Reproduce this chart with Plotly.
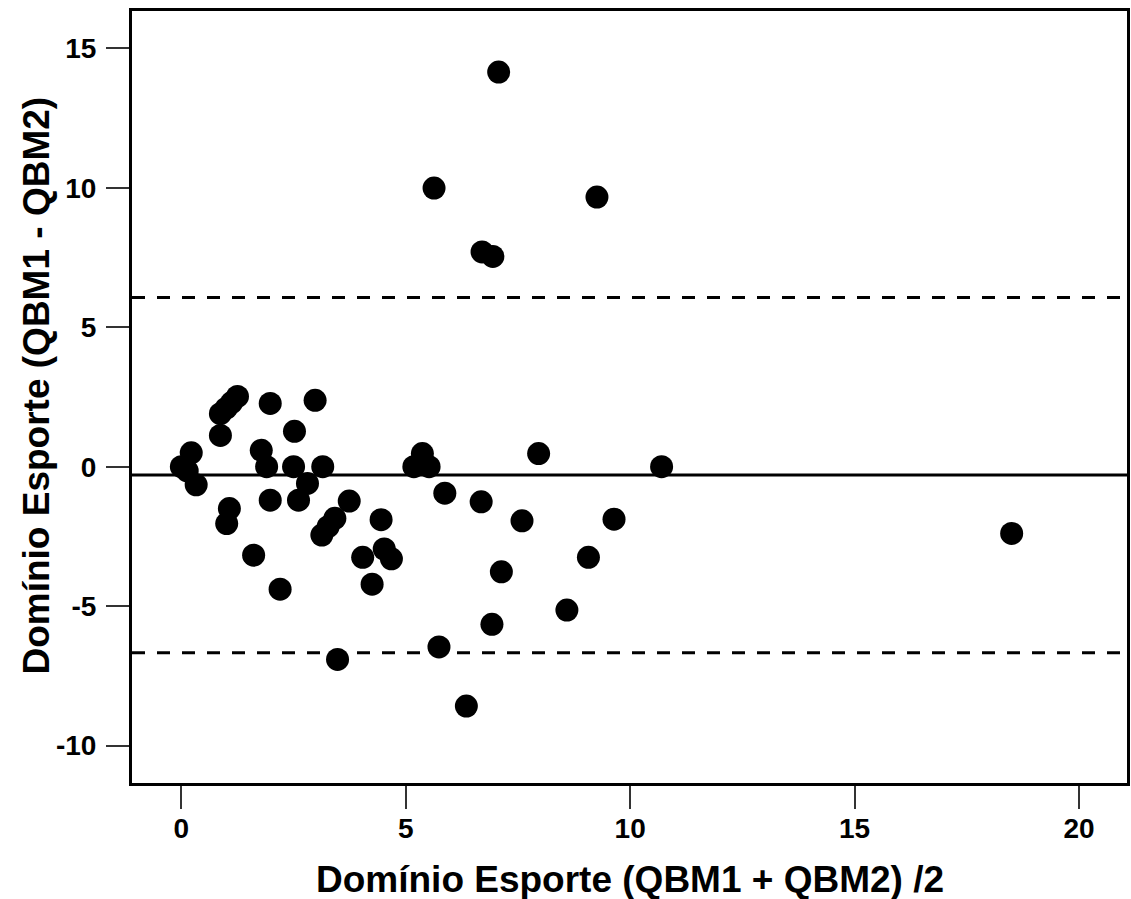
import plotly.graph_objects as go

# Bland-Altman data: mean of QBM1 & QBM2 (x) vs difference (y)
mean_vals = [0.0, 0.13, 0.22, 0.33, 0.87, 0.87, 1.0, 1.12, 1.25,
             1.98, 2.98, 2.52, 1.78, 1.9, 2.5, 3.15, 2.81, 1.98, 2.61,
             1.07, 1.01, 3.74, 3.42, 3.27, 3.13, 4.45, 1.61, 4.04, 4.52,
             4.68, 4.25, 2.2, 3.48, 5.18, 5.37, 5.52, 5.87, 7.96, 10.7,
             6.68, 7.59, 9.64, 9.07, 7.13, 8.59, 6.92, 5.74, 6.35, 7.07,
             5.63, 9.26, 6.7, 6.94, 18.5]
diff_vals = [0.0, -0.15, 0.5, -0.65, 1.12, 1.9, 2.1, 2.3, 2.52,
             2.27, 2.38, 1.27, 0.59, 0.0, 0.0, 0.0, -0.6, -1.2, -1.2,
             -1.5, -2.04, -1.23, -1.85, -2.15, -2.45, -1.9, -3.17, -3.25, -2.95,
             -3.3, -4.21, -4.39, -6.91, 0.0, 0.47, 0.0, -0.95, 0.47, 0.0,
             -1.26, -1.94, -1.88, -3.25, -3.77, -5.14, -5.65, -6.46, -8.58, 14.15,
             9.99, 9.67, 7.7, 7.54, -2.39]

bias = -0.30
upper_loa = 6.07
lower_loa = -6.67

x_ticks = [0, 5, 10, 15, 20]
x_tick_labels = ["0", "5", "10", "15", "20"]
y_ticks = [-10, -5, 0, 5, 10, 15]
y_tick_labels = ["-10", "-5", "0", "5", "10", "15"]

FONT = "Liberation Sans, Arial, sans-serif"

fig = go.Figure()
fig.add_trace(go.Scatter(
    x=mean_vals, y=diff_vals, mode="markers",
    marker=dict(color="black", size=23, line=dict(width=0)),
    showlegend=False, cliponaxis=False))

for yv, dash in [(bias, "solid"), (upper_loa, "13px,12px"), (lower_loa, "13px,12px")]:
    fig.add_shape(type="line", xref="paper", yref="y", x0=0, x1=1, y0=yv, y1=yv,
                  line=dict(color="black", width=3, dash=dash), layer="below")

axis_common = dict(showgrid=False, zeroline=False, showline=True, mirror=True,
                   linecolor="black", linewidth=3, ticks="outside", ticklen=23,
                   tickwidth=2, tickcolor="#333333",
                   tickfont=dict(family=FONT, size=28, color="black", weight="bold"))

fig.update_xaxes(range=[-1.10, 21.07], tickvals=x_ticks, ticktext=x_tick_labels,
                 ticklabelstandoff=-5, **axis_common)
fig.update_yaxes(range=[-11.34, 16.34], tickvals=y_ticks, ticktext=y_tick_labels,
                 ticklabelstandoff=4, **axis_common)

fig.add_annotation(text="Domínio Esporte (QBM1 + QBM2) /2", xref="paper", yref="paper",
                   x=0.5, y=-0.1256, showarrow=False, xanchor="center", yanchor="middle",
                   font=dict(family=FONT, size=37, color="black", weight="bold"))
fig.add_annotation(text="Domínio Esporte (QBM1 - QBM2)", xref="paper", yref="paper",
                   x=-0.096, y=0.5155, showarrow=False, xanchor="center", yanchor="middle",
                   textangle=-90,
                   font=dict(family=FONT, size=37, color="black", weight="bold"))

fig.update_layout(width=1131, height=899, margin=dict(l=132, r=1, t=11, b=116),
                  plot_bgcolor="white", paper_bgcolor="white")

fig.write_html("out.html")
